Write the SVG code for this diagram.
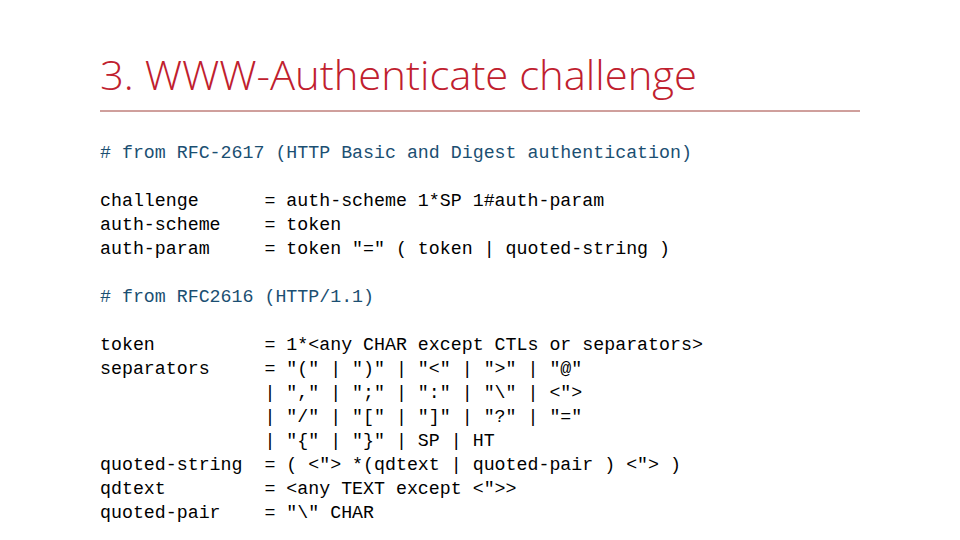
<svg xmlns="http://www.w3.org/2000/svg" width="960" height="540" viewBox="0 0 960 540">
<style>
.t{font-family:"Open Sans","Noto Sans",sans-serif;font-weight:300;font-size:40px;fill:#C0202E}
.c{font-family:"Liberation Mono","DejaVu Sans Mono",monospace;font-size:18.27px;fill:#000;white-space:pre}
.cm{fill:#1B4F72}
</style>
<rect width="960" height="540" fill="#fff"/>
<g id="title">
<text class="t" x="100" y="90" textLength="597" lengthAdjust="spacingAndGlyphs">3. WWW-Authenticate challenge</text>
<line x1="100" y1="111" x2="860" y2="111" stroke="#A0403A" stroke-width="1"/>
</g>
<g id="code" xml:space="preserve">
<text class="c cm" x="100" y="158"># from RFC-2617 (HTTP Basic and Digest authentication)</text>
<text class="c" x="100" y="206">challenge      = auth-scheme 1*SP 1#auth-param</text>
<text class="c" x="100" y="230">auth-scheme    = token</text>
<text class="c" x="100" y="254">auth-param     = token "=" ( token | quoted-string )</text>
<text class="c cm" x="100" y="302"># from RFC2616 (HTTP/1.1)</text>
<text class="c" x="100" y="350">token          = 1*&lt;any CHAR except CTLs or separators&gt;</text>
<text class="c" x="100" y="374">separators     = "(" | ")" | "&lt;" | "&gt;" | "@"</text>
<text class="c" x="100" y="398">               | "," | ";" | ":" | "\" | &lt;"&gt;</text>
<text class="c" x="100" y="422">               | "/" | "[" | "]" | "?" | "="</text>
<text class="c" x="100" y="446">               | "{" | "}" | SP | HT</text>
<text class="c" x="100" y="470">quoted-string  = ( &lt;"&gt; *(qdtext | quoted-pair ) &lt;"&gt; )</text>
<text class="c" x="100" y="494">qdtext         = &lt;any TEXT except &lt;"&gt;&gt;</text>
<text class="c" x="100" y="518">quoted-pair    = "\" CHAR</text>
</g>
</svg>
